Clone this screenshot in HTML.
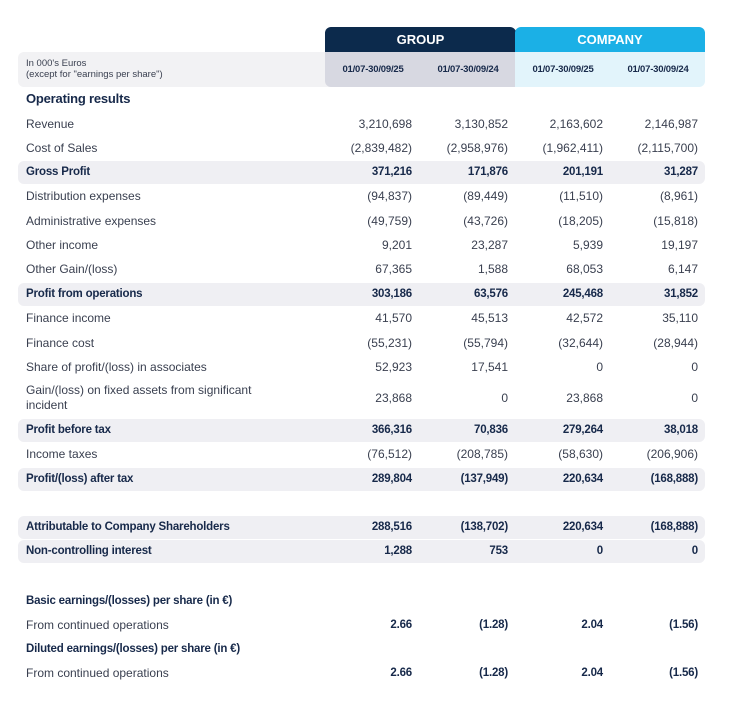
<!DOCTYPE html>
<html><head><meta charset="utf-8"><style>
body{margin:0;width:735px;height:708px;background:#fff;font-family:"Liberation Sans",sans-serif;position:relative;overflow:hidden}
div{position:absolute;box-sizing:border-box}
.hl{left:18px;width:687px;height:23px;background:#efeff3;border-radius:6px}
.r{height:20px;line-height:20px;font-size:12px;color:#3a4050;white-space:nowrap}
.b{font-weight:bold;color:#17294a;font-size:11.5px;letter-spacing:-0.2px}
.l{left:26px}
.n{text-align:right;width:100px}
</style></head><body>
<div style="left:325px;top:27px;width:191px;height:26px;background:#0c2a4c;border-radius:6px 6px 0 0;color:#fff;font-weight:bold;font-size:13px;text-align:center;line-height:26px">GROUP</div>
<div style="left:515px;top:27px;width:190px;height:26px;background:#1bb0e6;border-radius:6px 6px 0 0;color:#fff;font-weight:bold;font-size:13px;text-align:center;line-height:26px">COMPANY</div>
<div style="left:18px;top:52px;width:320px;height:35px;background:#f2f2f4;border-radius:6px 0 0 6px"></div>
<div style="left:325px;top:52px;width:191px;height:35px;background:#d7d8e1;border-radius:0 0 0 6px"></div>
<div style="left:515px;top:52px;width:190px;height:35px;background:#e2f4fb;border-radius:0 0 6px 0"></div>
<div style="left:26px;top:58px;font-size:9.5px;color:#3a4050;line-height:11px">In 000's Euros<br>(except for "earnings per share")</div>
<div class="r b" style="left:325px;top:60px;width:96px;text-align:center;font-size:9.5px">01/07-30/09/25</div>
<div class="r b" style="left:420px;top:60px;width:96px;text-align:center;font-size:9.5px">01/07-30/09/24</div>
<div class="r b" style="left:515px;top:60px;width:96px;text-align:center;font-size:9.5px">01/07-30/09/25</div>
<div class="r b" style="left:610px;top:60px;width:96px;text-align:center;font-size:9.5px">01/07-30/09/24</div>
<div class="r b l" style="top:89px;font-size:13px">Operating results</div>
<div id="rows"></div>
<script>
var rows=[
[124,"Revenue",["3,210,698","3,130,852","2,163,602","2,146,987"],0],
[148,"Cost of Sales",["(2,839,482)","(2,958,976)","(1,962,411)","(2,115,700)"],0],
[172,"Gross Profit",["371,216","171,876","201,191","31,287"],1],
[196,"Distribution expenses",["(94,837)","(89,449)","(11,510)","(8,961)"],0],
[221,"Administrative expenses",["(49,759)","(43,726)","(18,205)","(15,818)"],0],
[245,"Other income",["9,201","23,287","5,939","19,197"],0],
[269,"Other Gain/(loss)",["67,365","1,588","68,053","6,147"],0],
[294,"Profit from operations",["303,186","63,576","245,468","31,852"],1],
[318,"Finance income",["41,570","45,513","42,572","35,110"],0],
[343,"Finance cost",["(55,231)","(55,794)","(32,644)","(28,944)"],0],
[367,"Share of profit/(loss) in associates",["52,923","17,541","0","0"],0],
[398,"",["23,868","0","23,868","0"],0],
[430,"Profit before tax",["366,316","70,836","279,264","38,018"],1],
[454,"Income taxes",["(76,512)","(208,785)","(58,630)","(206,906)"],0],
[479,"Profit/(loss) after tax",["289,804","(137,949)","220,634","(168,888)"],1],
[527,"Attributable to Company Shareholders",["288,516","(138,702)","220,634","(168,888)"],1],
[551,"Non-controlling interest",["1,288","753","0","0"],1],
[601,"Basic earnings/(losses) per share (in €)",null,2],
[625,"From continued operations",["2.66","(1.28)","2.04","(1.56)"],3],
[649,"Diluted earnings/(losses) per share (in €)",null,2],
[673,"From continued operations",["2.66","(1.28)","2.04","(1.56)"],3]];
var R=[412,508,603,698],h="";
rows.forEach(function(r){var y=r[0];
if(r[3]==1)h+='<div class="hl" style="top:'+(y-11)+'px"></div>';
var lc=r[3]==1||r[3]==2?"r b l":"r l";
if(r[1])h+='<div class="'+lc+'" style="top:'+(y-10)+'px">'+r[1]+'</div>';
if(r[2])r[2].forEach(function(v,i){var c=r[3]==0?"r n":"r b n";h+='<div class="'+c+'" style="left:'+(R[i]-100)+'px;top:'+(y-10)+'px">'+v+'</div>';});
});
h+='<div class="r l" style="top:383px;line-height:15px;height:32px">Gain/(loss) on fixed assets from significant<br>incident</div>';
document.getElementById("rows").innerHTML=h;
</script>
</body></html>
